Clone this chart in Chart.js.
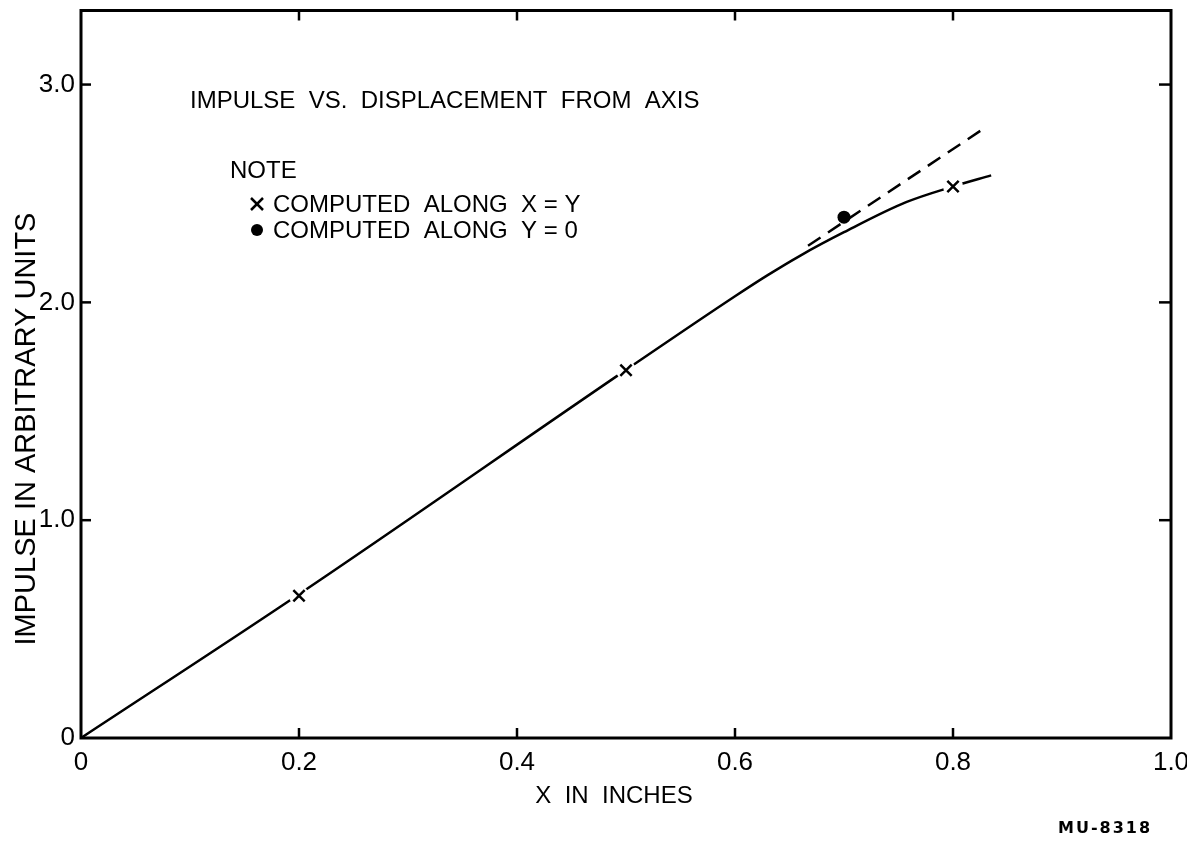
<!DOCTYPE html>
<html>
<head>
<meta charset="utf-8">
<script src="https://cdn.jsdelivr.net/npm/chart.js@4.4.0/dist/chart.umd.min.js"></script>
<style>
  html, body { margin: 0; padding: 0; background: #fff; }
  #wrap { width: 1187px; height: 841px; }
</style>
</head>
<body>
<div id="wrap"><canvas id="chart" width="1187" height="841"></canvas></div>
<script>
// Axes
const xTicks = [0, 0.2, 0.4, 0.6, 0.8, 1.0];
const xTickLabels = ['0', '0.2', '0.4', '0.6', '0.8', '1.0'];
const yTicks = [0, 1, 2, 3];
const yTickLabels = ['0', '1.0', '2.0', '3.0'];

// Computed along X = Y (crosses)
const crossX = [0.2, 0.5, 0.8];
const crossY = [0.653, 1.688, 2.532];

// Computed along Y = 0 (dot)
const dotX = [0.7];
const dotY = [2.391];

// Solid curve
const curveX = [0, 0.2, 0.5, 0.6, 0.63, 0.66, 0.7, 0.757, 0.8, 0.835];
const curveY = [0, 0.66, 1.69, 2.028, 2.125, 2.215, 2.322, 2.46, 2.532, 2.583];

// Dashed straight-line extension
const dashX = [0.667, 0.830];
const dashY = [2.26, 2.804];

const pts = (xs, ys) => xs.map((v, i) => ({ x: v, y: ys[i] }));
const FONT = 'Liberation Sans, Arial, sans-serif';

// Frame, inward tick marks and lettering
const paperPlugin = {
  id: 'paper',
  afterDraw(chart) {
    const { ctx, chartArea: a, scales: { x, y } } = chart;
    const line = (x1, y1, x2, y2) => {
      ctx.beginPath(); ctx.moveTo(x1, y1); ctx.lineTo(x2, y2); ctx.stroke();
    };
    ctx.save();
    ctx.strokeStyle = '#000';
    ctx.fillStyle = '#000';
    ctx.lineWidth = 3;
    ctx.strokeRect(a.left, a.top, a.right - a.left, a.bottom - a.top);

    ctx.lineWidth = 2.5;
    xTicks.slice(1, -1).forEach(v => {
      const px = x.getPixelForValue(v);
      line(px, a.bottom, px, a.bottom - 10);
      line(px, a.top, px, a.top + 10);
    });
    yTicks.slice(1).forEach(v => {
      const py = y.getPixelForValue(v);
      line(a.left, py, a.left + 10, py);
      line(a.right, py, a.right - 12, py);
    });

    ctx.font = `24px ${FONT}`;
    ctx.textAlign = 'left';
    ctx.textBaseline = 'alphabetic';
    ctx.fillText('IMPULSE  VS.  DISPLACEMENT  FROM  AXIS', 190, 108);
    ctx.fillText('NOTE', 230, 178);
    ctx.fillText('COMPUTED  ALONG  X = Y', 273, 212);
    ctx.fillText('COMPUTED  ALONG  Y = 0', 273, 238);

    // legend symbols
    ctx.lineWidth = 2.5;
    line(251, 198, 263, 210);
    line(251, 210, 263, 198);
    ctx.beginPath(); ctx.arc(257, 230, 6, 0, Math.PI * 2); ctx.fill();

    ctx.textAlign = 'center';
    ctx.fillText('X  IN  INCHES', 614, 803);

    ctx.save();
    ctx.translate(35, 429);
    ctx.rotate(-Math.PI / 2);
    ctx.font = `29px ${FONT}`;
    ctx.fillText('IMPULSE IN ARBITRARY UNITS', 0, 0);
    ctx.restore();

    ctx.textAlign = 'left';
    ctx.font = 'bold 16px DejaVu Sans, sans-serif';
    if ('letterSpacing' in ctx) ctx.letterSpacing = '2px';
    ctx.fillText('MU-8318', 1058, 833);
    ctx.restore();
  }
};

new Chart(document.getElementById('chart'), {
  type: 'scatter',
  data: {
    datasets: [
      {
        label: 'Computed along X = Y',
        data: pts(crossX, crossY),
        pointStyle: 'crossRot',
        pointRadius: 8,
        borderColor: '#000',
        borderWidth: 2.5,
        showLine: false,
        order: 0
      },
      {
        label: 'halo',
        data: pts(crossX, crossY),
        pointStyle: 'circle',
        pointRadius: 10,
        backgroundColor: '#fff',
        borderWidth: 0,
        showLine: false,
        order: 1
      },
      {
        label: 'Computed along Y = 0',
        data: pts(dotX, dotY),
        pointStyle: 'circle',
        pointRadius: 6.5,
        backgroundColor: '#000',
        borderWidth: 0,
        showLine: false,
        order: 0
      },
      {
        label: 'Curve',
        data: pts(curveX, curveY),
        showLine: true,
        borderColor: '#000',
        borderWidth: 2.5,
        pointRadius: 0,
        cubicInterpolationMode: 'monotone',
        order: 2
      },
      {
        label: 'Extension',
        data: pts(dashX, dashY),
        showLine: true,
        borderColor: '#000',
        borderWidth: 2.5,
        borderDash: [15, 9],
        pointRadius: 0,
        order: 2
      }
    ]
  },
  options: {
    responsive: false,
    animation: false,
    layout: { padding: { top: 10, right: 16, left: 0, bottom: 0 } },
    plugins: { legend: { display: false }, tooltip: { enabled: false } },
    scales: {
      x: {
        type: 'linear',
        min: 0,
        max: 1.0,
        grid: { display: false, drawTicks: false },
        border: { display: false },
        afterBuildTicks: s => { s.ticks = xTicks.map(v => ({ value: v })); },
        afterFit: s => { s.height = 103; s.paddingLeft = 0; s.paddingRight = 0; },
        ticks: {
          padding: 9,
          color: '#000',
          font: { family: FONT, size: 26 },
          callback: v => xTickLabels[xTicks.indexOf(v)]
        }
      },
      y: {
        type: 'linear',
        min: 0,
        max: 3.34,
        grid: { display: false, drawTicks: false },
        border: { display: false },
        afterBuildTicks: s => { s.ticks = yTicks.map(v => ({ value: v })); },
        afterFit: s => { s.width = 81; s.paddingTop = 0; s.paddingBottom = 0; },
        ticks: {
          padding: 6,
          color: '#000',
          font: { family: FONT, size: 26 },
          callback: v => yTickLabels[yTicks.indexOf(v)]
        }
      }
    }
  },
  plugins: [paperPlugin]
});
</script>
</body>
</html>
